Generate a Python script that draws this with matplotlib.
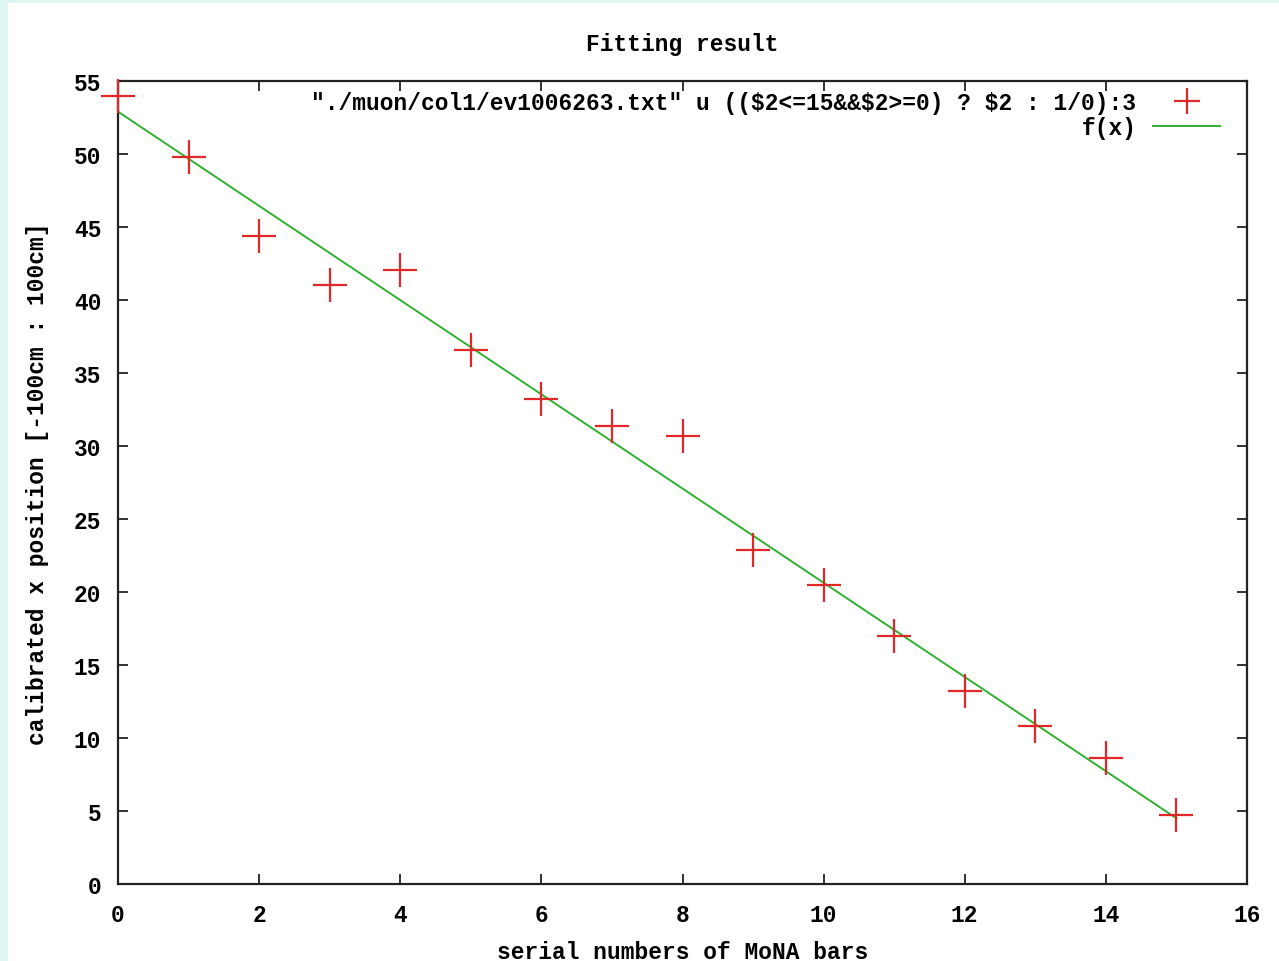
import matplotlib.pyplot as plt
from matplotlib.patches import Rectangle

# measured points (serial bar number vs calibrated x position)
bars = [0, 1, 2, 3, 4, 5, 6, 7, 8, 9, 10, 11, 12, 13, 14, 15]
xpos = [54.0, 49.8, 44.4, 41.0, 42.05, 36.6, 33.2, 31.4, 30.7, 22.9,
        20.5, 17.0, 13.2, 10.8, 8.6, 4.7]

# fitted line f(x), read at its two ends
fit_x = [0, 15]
fit_y = [52.9, 4.5]

xticks = [0, 2, 4, 6, 8, 10, 12, 14, 16]
yticks = [0, 5, 10, 15, 20, 25, 30, 35, 40, 45, 50, 55]

data_label = '"./muon/col1/ev1006263.txt" u (($2<=15&&$2>=0) ? $2 : 1/0):3'

plt.rcParams['font.family'] = ['Liberation Mono', 'DejaVu Sans Mono']
plt.rcParams['font.weight'] = 'bold'
plt.rcParams['font.size'] = 16.5

fig = plt.figure(figsize=(12.79, 9.62), dpi=100)
fig.patch.set_facecolor('#dff5f3')
fig.patches.append(Rectangle((8 / 1279, 0), 1, 1 - 4 / 962, transform=fig.transFigure,
                             facecolor='white', edgecolor='none', zorder=-10))

ax = fig.add_axes([118 / 1279, 77 / 962, 1129 / 1279, 803 / 962])
ax.set_facecolor('white')

ax.plot(bars, xpos, linestyle='none', marker='+', markersize=24, markeredgewidth=1.6,
        color='#e02828', label=data_label, clip_on=False, zorder=3)
ax.plot(fit_x, fit_y, color='#30b030', linewidth=1.4, label='f(x)', zorder=2)

ax.set_xlim(0, 16)
ax.set_ylim(0, 55)
ax.set_xticks(xticks)
ax.set_yticks(yticks)
ax.tick_params(direction='in', length=7, width=1.3, top=True, right=True, color='#222222')
ax.tick_params(axis='x', pad=14)
ax.tick_params(axis='y', pad=12)
for s in ax.spines.values():
    s.set_linewidth(1.6)
    s.set_color('#222222')

ax.set_title('Fitting result', pad=22, fontsize=16.5, fontweight='bold')
ax.set_xlabel('serial numbers of MoNA bars', labelpad=10, fontweight='bold')
ax.set_ylabel('calibrated x position [-100cm : 100cm]', labelpad=18, fontweight='bold')

leg = ax.legend(loc='upper right', bbox_to_anchor=(0.976, 0.988), markerfirst=False,
                frameon=False, handlelength=2.9, handletextpad=0.75, borderaxespad=0,
                labelspacing=0.12, borderpad=0, markerscale=0.8)

fig.savefig('out.png', dpi=100, facecolor=fig.get_facecolor())
